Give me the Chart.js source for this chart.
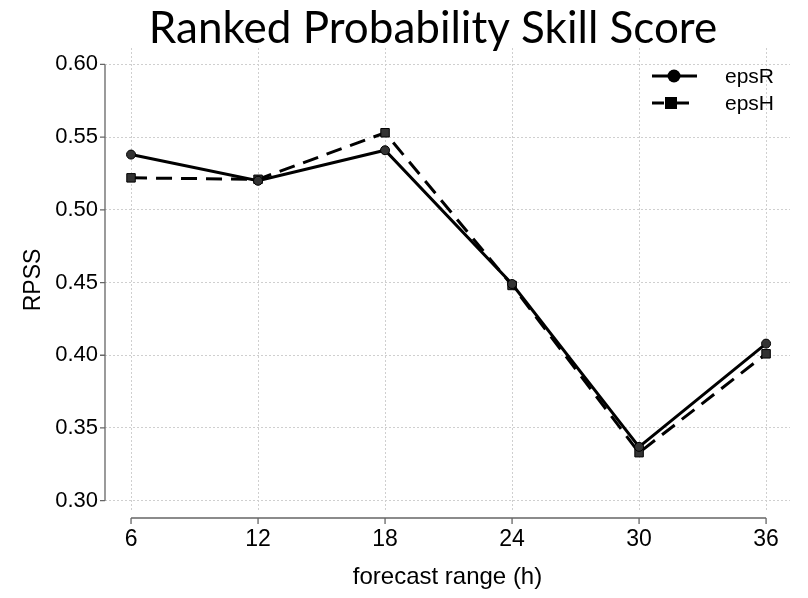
<!DOCTYPE html>
<html>
<head>
<meta charset="utf-8">
<script src="https://cdn.jsdelivr.net/npm/chart.js@4.4.1/dist/chart.umd.min.js"></script>
<style>
  html, body { margin: 0; padding: 0; background: #fff; }
  #wrap { width: 808px; height: 598px; }
</style>
</head>
<body>
<div id="wrap"><canvas id="rpssChart" width="808" height="598"></canvas></div>
<script>
// data
const forecastHours = [6, 12, 18, 24, 30, 36];
const epsR = [0.538, 0.520, 0.541, 0.449, 0.337, 0.408];
const epsH = [0.522, 0.521, 0.553, 0.448, 0.333, 0.401];
const yTicks = [0.30, 0.35, 0.40, 0.45, 0.50, 0.55, 0.60];
const seriesNames = ["epsR", "epsH"];
const chartTitle = "Ranked Probability Skill Score";

const toPoints = vals => forecastHours.map((h, i) => ({ x: h, y: vals[i] }));

// ===============================
// big title, a bit right of centre like the original slide
// ===============================
const slideTitle = {
  id: "slideTitle",
  afterDraw(chart) {
    const { ctx } = chart;
    ctx.save();
    ctx.font = "44px Lato, 'Open Sans', sans-serif";
    ctx.fillStyle = "#000";
    ctx.textAlign = "center";
    ctx.textBaseline = "alphabetic";
    ctx.fillText(chartTitle, 433, 43);
    ctx.restore();
  }
};

// ===============================
// axis lines only across the tick range (range frame)
// ===============================
const rangeAxes = {
  id: "rangeAxes",
  beforeDatasetsDraw(chart) {
    const { ctx, chartArea, scales: { x, y } } = chart;
    const ax = chartArea.left;
    const ay = chartArea.bottom + 6;
    ctx.save();
    ctx.strokeStyle = "#666";
    ctx.lineWidth = 1.3;
    ctx.setLineDash([]);

    // y axis
    ctx.beginPath();
    ctx.moveTo(ax, y.getPixelForValue(yTicks[0]));
    ctx.lineTo(ax, y.getPixelForValue(yTicks[yTicks.length - 1]));
    yTicks.forEach(v => {
      const py = y.getPixelForValue(v);
      ctx.moveTo(ax - 5, py);
      ctx.lineTo(ax, py);
    });
    ctx.stroke();

    // x axis
    ctx.beginPath();
    ctx.moveTo(x.getPixelForValue(forecastHours[0]), ay);
    ctx.lineTo(x.getPixelForValue(forecastHours[forecastHours.length - 1]), ay);
    forecastHours.forEach(v => {
      const px = x.getPixelForValue(v);
      ctx.moveTo(px, ay);
      ctx.lineTo(px, ay + 6);
    });
    ctx.stroke();
    ctx.restore();
  }
};

// ===============================
// legend: line + marker samples, top right
// ===============================
const lineLegend = {
  id: "lineLegend",
  afterDraw(chart) {
    const { ctx } = chart;
    const x0 = 652, x1 = 692, tx = 725;
    const rows = [76, 103];
    ctx.save();
    chart.data.datasets.forEach((ds, i) => {
      const ry = rows[i];
      ctx.strokeStyle = "#000";
      ctx.lineWidth = 3;
      ctx.setLineDash(ds.borderDash ? [12, 13] : []);
      ctx.beginPath();
      ctx.moveTo(x0, ry);
      ctx.lineTo(ds.borderDash ? x1 - 2 : x1 + 5, ry);
      ctx.stroke();
      ctx.setLineDash([]);
      ctx.fillStyle = "#000";
      const cx = ds.borderDash ? 671 : 674;
      if (ds.pointStyle === "rect") {
        ctx.fillRect(cx - 6, ry - 6, 12, 12);
      } else {
        ctx.beginPath();
        ctx.arc(cx, ry, 6.5, 0, Math.PI * 2);
        ctx.fill();
      }
      ctx.font = "21px 'Liberation Sans', Arial, sans-serif";
      ctx.textBaseline = "middle";
      ctx.textAlign = "left";
      ctx.fillText(ds.label, tx, ry + 1);
    });
    ctx.restore();
  }
};

new Chart(document.getElementById("rpssChart"), {
  type: "line",
  data: {
    datasets: [
      {
        label: seriesNames[0],
        data: toPoints(epsR),
        borderColor: "#000",
        borderWidth: 3,
        pointStyle: "circle",
        pointRadius: 4.5,
        pointBackgroundColor: "#333",
        pointBorderColor: "#000",
        pointBorderWidth: 1,
        tension: 0,
      },
      {
        label: seriesNames[1],
        data: toPoints(epsH),
        borderColor: "#000",
        borderWidth: 3,
        borderDash: [16, 9],
        pointStyle: "rect",
        pointRadius: 6,
        pointBackgroundColor: "#333",
        pointBorderColor: "#000",
        pointBorderWidth: 1,
        tension: 0,
      },
    ],
  },
  options: {
    responsive: false,
    animation: false,
    layout: { padding: { left: 0, right: 18, top: 48, bottom: 0 } },
    plugins: {
      legend: { display: false },
      tooltip: { enabled: false },
      title: { display: false },
    },
    scales: {
      x: {
        type: "linear",
        min: 4.77,
        max: 37.13,
        afterBuildTicks: s => { s.ticks = forecastHours.map(v => ({ value: v })); },
        afterFit: s => { s.height = 86; },
        border: { display: false, dash: [2, 2] },
        grid: { color: "#cfcfcf", lineWidth: 1, drawTicks: false },
        ticks: {
          color: "#000",
          padding: 14,
          font: { family: "Liberation Sans", size: 23 },
          callback: v => String(v),
        },
        title: {
          display: true,
          text: "forecast range (h)",
          color: "#000",
          font: { family: "Liberation Sans", size: 24 },
          padding: { top: 0, bottom: 6 },
        },
      },
      y: {
        min: 0.2922,
        max: 0.6113,
        afterBuildTicks: s => { s.ticks = yTicks.map(v => ({ value: v })); },
        afterFit: s => { s.width = 105; },
        border: { display: false, dash: [2, 2] },
        grid: { color: "#cfcfcf", lineWidth: 1, drawTicks: false },
        ticks: {
          color: "#000",
          padding: 7,
          font: { family: "Liberation Sans", size: 22 },
          callback: v => v.toFixed(2),
        },
        title: {
          display: true,
          text: "RPSS",
          color: "#000",
          font: { family: "Liberation Sans", size: 23 },
          padding: { top: 20, bottom: 0 },
        },
      },
    },
  },
  plugins: [slideTitle, rangeAxes, lineLegend],
});
</script>
</body>
</html>
